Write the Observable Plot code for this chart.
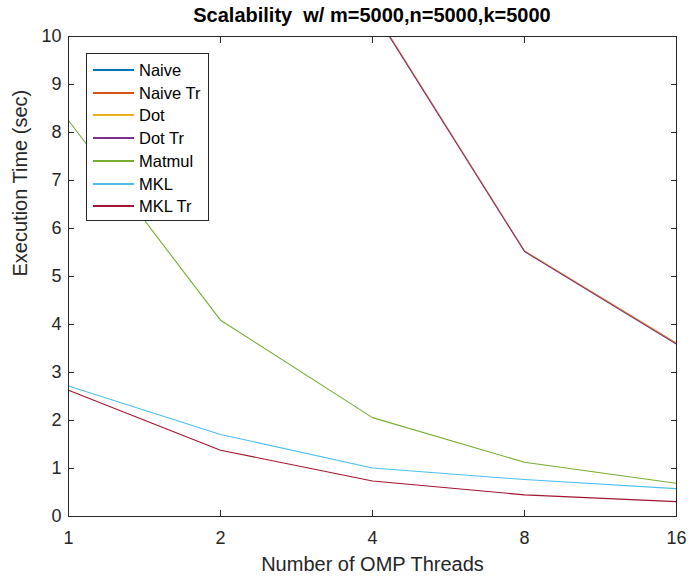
<!DOCTYPE html>
<html><head><meta charset="utf-8">
<script src="https://cdn.jsdelivr.net/npm/d3@7"></script>
<script src="https://cdn.jsdelivr.net/npm/@observablehq/plot@0.6"></script>
<style>
body{margin:0;background:#fff;font-family:"Liberation Sans",Arial,sans-serif;}
#wrap{position:relative;width:688px;height:578px;}
#title{height:26px;box-sizing:border-box;padding-top:4px;line-height:22px;font-size:20px;font-weight:bold;color:#000;white-space:pre;width:608px;margin-left:68px;text-align:center;}
#chart svg{display:block;}
#legend{position:absolute;left:86px;top:53px;width:123px;height:168px;box-sizing:border-box;border:1px solid #262626;background:#fff;}
.row{position:absolute;left:0;height:22px;line-height:22px;font-size:16.5px;color:#000;}
.sw{position:absolute;left:6px;top:10px;width:41px;height:2px;}
.lt{position:absolute;left:52px;top:0;white-space:nowrap;}
</style></head><body>
<div id="wrap"><div id="title"></div><div id="chart"></div><div id="legend"></div></div>
<script>
const titleText = "Scalability  w/ m=5000,n=5000,k=5000";
const xLabel = "Number of OMP Threads";
const yLabel = "Execution Time (sec)";
const threads = [1, 2, 4, 8, 16];
const yTicks = [0, 1, 2, 3, 4, 5, 6, 7, 8, 9, 10];
const seriesNames = ["Naive", "Naive Tr", "Dot", "Dot Tr", "Matmul", "MKL", "MKL Tr"];
const seriesColors = ["#0072BD", "#D95319", "#EDB120", "#7E2F8E", "#77AC30", "#4DBEEE", "#A2142F"];
const naive   = [48.5, 24.6, 13.1, 11.2, 10.4];
const naiveTr = [41.3, 21.0, 10.58, 5.53, 3.61];
const dot     = [41.5, 21.1, 10.57, 5.53, 3.60];
const dotTr   = [41.2, 20.9, 10.56, 5.52, 3.59];
const matmul  = [8.25, 4.09, 2.06, 1.13, 0.69];
const mkl     = [2.72, 1.71, 1.01, 0.77, 0.58];
const mklTr   = [2.63, 1.38, 0.74, 0.45, 0.31];

const allValues = [naive, naiveTr, dot, dotTr, matmul, mkl, mklTr];
const table = [];
seriesNames.forEach((s, k) => threads.forEach((t, i) => table.push({series: s, t, v: allValues[k][i]})));

document.getElementById("title").textContent = titleText;

const chart = Plot.plot({
  width: 688,
  height: 552,
  marginTop: 10,
  marginBottom: 62,
  marginLeft: 68,
  marginRight: 12,
  style: {color: "#262626", fontFamily: "'Liberation Sans', Arial, sans-serif", background: "#fff"},
  x: {type: "log", base: 2, domain: [1, 16], axis: null},
  y: {domain: [0, 10], axis: null},
  color: {domain: seriesNames, range: seriesColors},
  marks: [
    Plot.line(table, {x: "t", y: "v", z: "series", stroke: "series", strokeWidth: 1.1, clip: true}),
    Plot.frame({stroke: "#262626", strokeWidth: 1}),
    Plot.axisX({anchor: "bottom", ticks: threads, tickFormat: d => String(d), tickSize: -6, tickPadding: 21, fontSize: 18, label: null}),
    Plot.axisX({anchor: "top", ticks: threads, tickFormat: () => "", tickSize: -6, label: null}),
    Plot.axisY({anchor: "left", ticks: yTicks, tickFormat: d => String(d), tickSize: -6, tickPadding: 13, fontSize: 18, label: null}),
    Plot.axisY({anchor: "right", ticks: yTicks, tickFormat: () => "", tickSize: -6, label: null}),
    Plot.text([xLabel], {frameAnchor: "bottom", dy: 54, text: d => d, fontSize: 20, fill: "#262626"}),
    Plot.text([yLabel], {frameAnchor: "left", dx: -48, rotate: -90, text: d => d, fontSize: 20, fill: "#262626"})
  ]
});
document.getElementById("chart").appendChild(chart);

const legend = document.getElementById("legend");
seriesNames.forEach((s, i) => {
  const row = document.createElement("div");
  row.className = "row";
  row.style.top = (5 + i * 22.7) + "px";
  row.style.width = "120px";
  const sw = document.createElement("div");
  sw.className = "sw";
  sw.style.background = seriesColors[i];
  const lt = document.createElement("div");
  lt.className = "lt";
  lt.textContent = s;
  row.appendChild(sw); row.appendChild(lt);
  legend.appendChild(row);
});
</script>
</body></html>
